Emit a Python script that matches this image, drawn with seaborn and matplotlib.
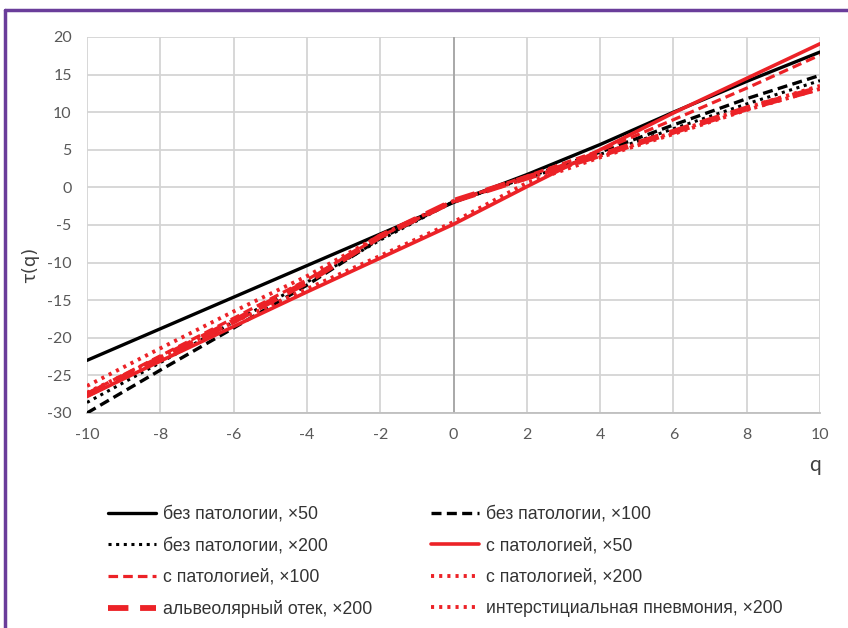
import pandas as pd
import matplotlib.pyplot as plt
import seaborn as sns
from matplotlib.lines import Line2D

# values
q = [-10, -8, -6, -4, -2, 0, 2, 4, 6, 8, 10]
bp50 = [-23.0, -18.8, -14.6, -10.4, -6.2, -2.0, 1.7, 5.7, 10.0, 14.1, 18.0]
bp100 = [-30.0, -24.3, -18.7, -13.0, -6.8, -1.9, 1.3, 4.7, 8.3, 11.8, 14.9]
bp200 = [-28.6, -23.3, -17.9, -12.6, -7.0, -1.9, 1.2, 4.4, 7.8, 11.1, 14.2]
sp50 = [-27.8, -23.1, -18.5, -13.9, -9.4, -4.9, 0.1, 5.0, 9.9, 14.5, 19.1]
sp100 = [-27.4, -22.4, -17.4, -12.3, -6.5, -1.9, 1.5, 4.9, 9.0, 13.2, 17.6]
sp200 = [-26.4, -21.4, -16.5, -11.8, -6.4, -1.8, 1.2, 4.2, 7.3, 10.6, 13.5]
ao200 = [-27.6, -22.7, -17.8, -12.6, -6.5, -1.8, 1.3, 4.3, 7.4, 10.5, 13.2]
ip200 = [-27.3, -22.6, -17.9, -13.5, -9.1, -4.6, 0.6, 4.0, 7.1, 10.3, 13.1]

labels = ['без патологии, ×50', 'без патологии, ×100', 'без патологии, ×200',
          'с патологией, ×50', 'с патологией, ×100', 'с патологией, ×200',
          'альвеолярный отек, ×200', 'интерстициальная пневмония, ×200']
series = [bp50, bp100, bp200, sp50, sp100, sp200, ao200, ip200]

rows = []
for lab, vals in zip(labels, series):
    for qq, t in zip(q, vals):
        rows.append({'q': qq, 'tau': t, 'series': lab})
df = pd.DataFrame(rows)

RED = '#ec2227'
styles = {
    labels[0]: dict(color='black', ls='-', lw=2.4),
    labels[1]: dict(color='black', ls=(0, (3, 1.6)), lw=2.4),
    labels[2]: dict(color='black', ls=(0, (1, 1.5)), lw=2.2),
    labels[3]: dict(color=RED, ls='-', lw=2.6),
    labels[4]: dict(color=RED, ls=(0, (3, 1.6)), lw=2.3),
    labels[5]: dict(color=RED, ls=(0, (0.8, 1.3)), lw=2.8),
    labels[6]: dict(color=RED, ls=(0, (3.5, 2.0)), lw=4.2),
    labels[7]: dict(color=RED, ls=(0, (0.8, 1.3)), lw=2.8),
}

sns.set_style('white')
plt.rcParams['axes.unicode_minus'] = False

fig = plt.figure(figsize=(8.48, 6.28), dpi=100)
ax = fig.add_axes([87 / 848, 1 - 413 / 628, 733 / 848, 376 / 628])

for lab in labels:
    st = styles[lab]
    sns.lineplot(data=df[df['series'] == lab], x='q', y='tau', ax=ax,
                 color=st['color'], linestyle=st['ls'], linewidth=st['lw'],
                 label=lab, legend=False, zorder=3)

ax.set_xlim(-10, 10)
ax.set_ylim(-30, 20)
ax.set_xticks(range(-10, 11, 2))
ax.set_yticks(range(-30, 21, 5))
ax.grid(True, color='#d4d4d4', lw=1.3, zorder=0)
ax.axvline(0, color='#a6a6a6', lw=1.3, zorder=1)
for s in ['top', 'right', 'left']:
    ax.spines[s].set_visible(False)
ax.spines['bottom'].set_color('#bfbfbf')
ax.spines['bottom'].set_linewidth(1.3)
ax.tick_params(length=0, labelsize=11.5, labelcolor='#595959', pad=11)
for t in ax.get_xticklabels() + ax.get_yticklabels():
    t.set_family('Lato')
ax.set_xlabel('')
ax.set_ylabel('')
fig.text(30 / 848, 1 - 265 / 628, 'τ(q)', rotation=90, ha='center', va='center',
         fontsize=13, color='#404040')
fig.text(815 / 848, 1 - 465 / 628, 'q', ha='center', va='center',
         fontsize=15, color='#404040', family='Lato')

# legend: 2 columns, filled row by row
handles = []
for lab in labels:
    st = styles[lab]
    handles.append(Line2D([], [], color=st['color'], ls=st['ls'], lw=st['lw']))
order = [0, 2, 4, 6, 1, 3, 5, 7]
leg = fig.legend([handles[i] for i in order], [labels[i] for i in order],
                 loc='upper left', bbox_to_anchor=(92 / 848, 1 - 490 / 628),
                 ncol=2, frameon=False, handlelength=2.75,
                 handletextpad=0.4, labelspacing=0.82, columnspacing=3.3,
                 prop={'family': 'Liberation Sans', 'size': 12.7})
for t in leg.get_texts():
    t.set_color('#333333')

# purple frame on top and left
fig.add_artist(Line2D([5 / 848, 1], [1 - 10 / 628, 1 - 10 / 628], color='#6a3d9a', lw=2.5))
fig.add_artist(Line2D([5 / 848, 5 / 848], [0, 1 - 10 / 628], color='#6a3d9a', lw=2.5))

fig.savefig('out.png', dpi=100)
